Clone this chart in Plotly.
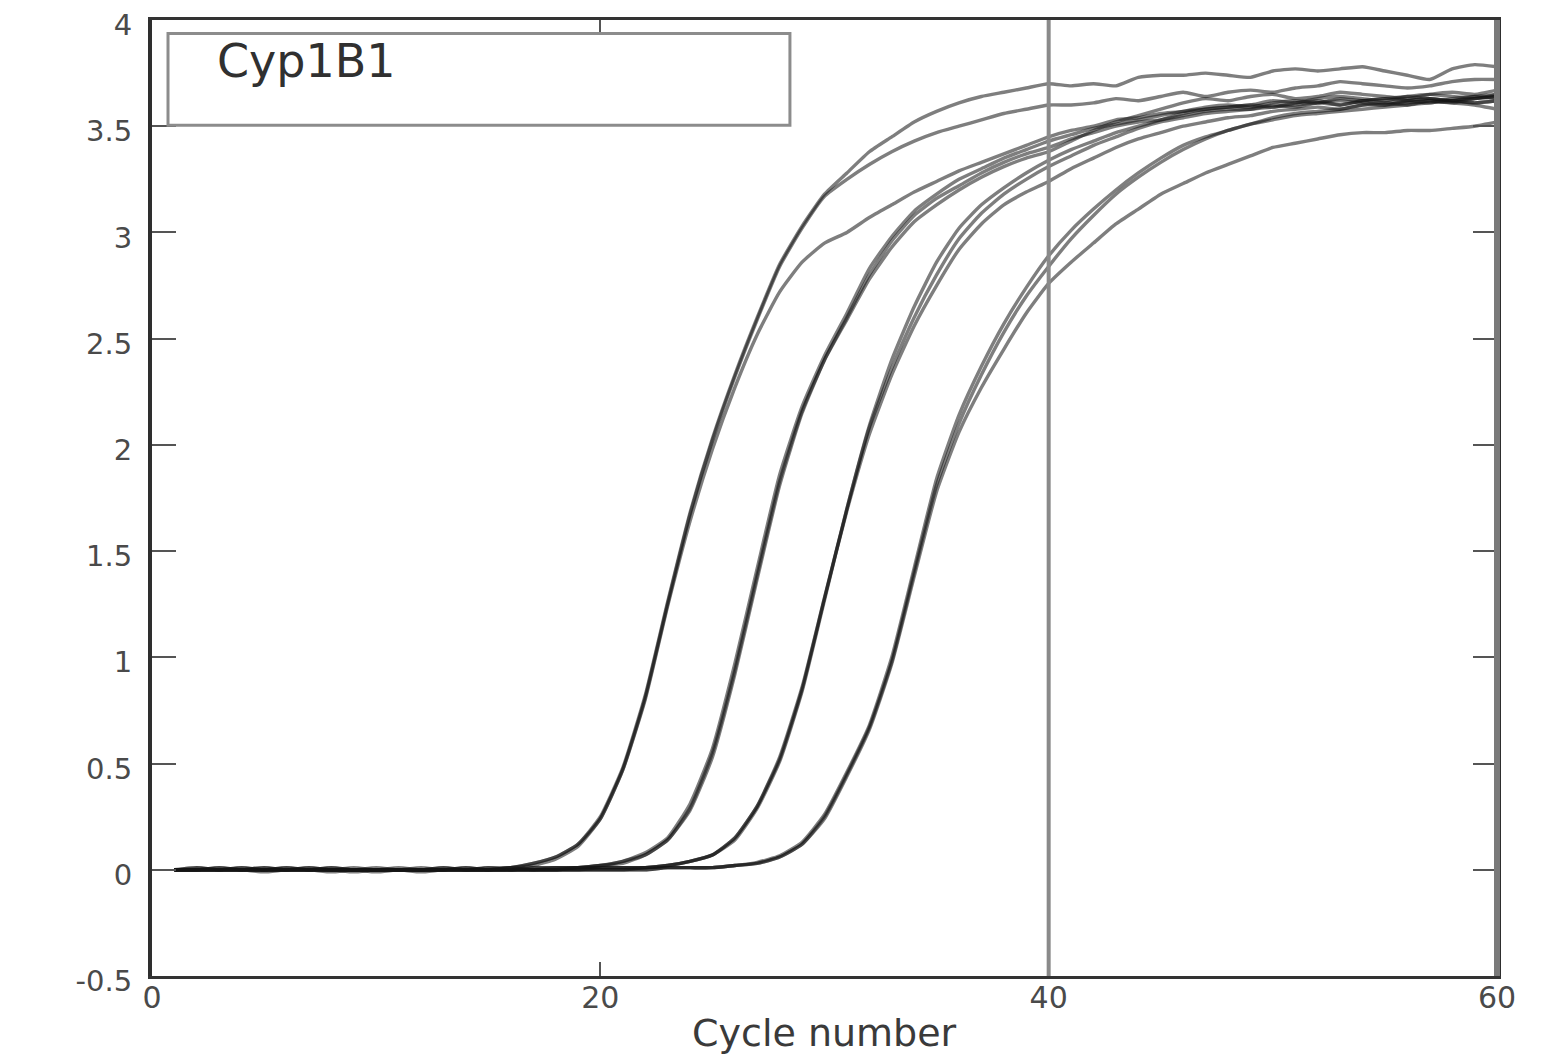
import plotly.graph_objects as go

# ---------------- data ----------------
cycles = list(range(1, 61))

A1 = [0.00, 0.01, 0.00, 0.00, -0.01, 0.00, 0.00, 0.01, 0.00, 0.00,
      0.00, -0.01, 0.00, 0.00, 0.01, 0.01, 0.03, 0.06, 0.12, 0.25,
      0.48, 0.82, 1.26, 1.68, 2.03, 2.33, 2.60, 2.85, 3.03, 3.18,
      3.28, 3.38, 3.45, 3.52, 3.57, 3.61, 3.64, 3.66, 3.68, 3.70,
      3.69, 3.70, 3.69, 3.73, 3.74, 3.74, 3.75, 3.74, 3.73, 3.76,
      3.77, 3.76, 3.77, 3.78, 3.76, 3.74, 3.72, 3.77, 3.79, 3.78]
A2 = [0.00, 0.00, 0.00, 0.01, 0.00, 0.00, 0.00, 0.00, -0.01, 0.00,
      0.00, 0.00, 0.01, 0.00, 0.00, 0.01, 0.03, 0.06, 0.12, 0.24,
      0.47, 0.81, 1.25, 1.67, 2.02, 2.32, 2.59, 2.84, 3.02, 3.17,
      3.25, 3.32, 3.38, 3.43, 3.47, 3.50, 3.53, 3.56, 3.58, 3.60,
      3.60, 3.61, 3.63, 3.62, 3.64, 3.66, 3.64, 3.66, 3.67, 3.66,
      3.68, 3.69, 3.71, 3.70, 3.69, 3.68, 3.69, 3.71, 3.72, 3.72]
A3 = [0.00, 0.00, 0.00, 0.00, 0.00, 0.01, 0.00, 0.00, 0.00, 0.00,
      0.01, 0.00, 0.00, 0.00, 0.00, 0.01, 0.02, 0.05, 0.11, 0.24,
      0.47, 0.80, 1.24, 1.64, 1.98, 2.27, 2.52, 2.72, 2.86, 2.95,
      3.00, 3.07, 3.13, 3.19, 3.24, 3.29, 3.33, 3.37, 3.41, 3.45,
      3.48, 3.50, 3.53, 3.54, 3.56, 3.57, 3.59, 3.60, 3.59, 3.61,
      3.62, 3.61, 3.63, 3.62, 3.63, 3.64, 3.63, 3.62, 3.64, 3.65]
B1 = [0.00, 0.00, 0.01, 0.00, 0.00, 0.00, 0.00, -0.01, 0.00, 0.00,
      0.00, 0.00, 0.00, 0.01, 0.00, 0.00, 0.01, 0.01, 0.01, 0.02,
      0.04, 0.08, 0.15, 0.31, 0.57, 0.97, 1.42, 1.86, 2.18, 2.42,
      2.62, 2.83, 2.98, 3.10, 3.18, 3.25, 3.30, 3.35, 3.39, 3.43,
      3.46, 3.49, 3.51, 3.53, 3.55, 3.57, 3.58, 3.59, 3.60, 3.59,
      3.61, 3.62, 3.60, 3.62, 3.63, 3.62, 3.61, 3.63, 3.64, 3.63]
B2 = [0.00, 0.00, 0.00, 0.00, 0.01, 0.00, 0.00, 0.00, 0.00, 0.01,
      0.00, 0.00, 0.00, 0.00, 0.00, 0.00, 0.00, 0.01, 0.01, 0.02,
      0.03, 0.07, 0.14, 0.28, 0.53, 0.92, 1.37, 1.81, 2.15, 2.40,
      2.60, 2.80, 2.96, 3.08, 3.16, 3.22, 3.28, 3.33, 3.37, 3.40,
      3.44, 3.47, 3.50, 3.52, 3.53, 3.55, 3.57, 3.58, 3.58, 3.60,
      3.59, 3.61, 3.62, 3.61, 3.60, 3.62, 3.63, 3.62, 3.61, 3.62]
B3 = [0.00, 0.01, 0.00, 0.00, 0.00, 0.00, 0.01, 0.00, 0.00, 0.00,
      0.00, 0.00, 0.01, 0.00, 0.00, 0.00, 0.01, 0.01, 0.01, 0.02,
      0.04, 0.07, 0.14, 0.29, 0.55, 0.94, 1.39, 1.83, 2.16, 2.40,
      2.59, 2.78, 2.93, 3.05, 3.13, 3.20, 3.26, 3.31, 3.35, 3.38,
      3.43, 3.48, 3.52, 3.55, 3.58, 3.61, 3.63, 3.62, 3.64, 3.65,
      3.63, 3.64, 3.66, 3.65, 3.64, 3.63, 3.65, 3.66, 3.65, 3.67]
C1 = [0.00, 0.00, 0.00, 0.01, 0.00, 0.00, 0.00, 0.00, 0.00, 0.00,
      0.00, 0.01, 0.00, 0.00, 0.00, 0.00, 0.00, 0.00, 0.01, 0.01,
      0.01, 0.01, 0.02, 0.04, 0.07, 0.15, 0.30, 0.52, 0.85, 1.28,
      1.70, 2.08, 2.36, 2.60, 2.80, 2.97, 3.09, 3.18, 3.25, 3.31,
      3.36, 3.41, 3.45, 3.49, 3.52, 3.54, 3.56, 3.57, 3.58, 3.59,
      3.60, 3.61, 3.60, 3.62, 3.61, 3.62, 3.63, 3.62, 3.63, 3.64]
C2 = [0.00, 0.00, 0.00, 0.00, 0.00, 0.01, 0.00, 0.00, 0.00, -0.01,
      0.00, 0.00, 0.00, 0.00, 0.01, 0.00, 0.00, 0.00, 0.00, 0.01,
      0.01, 0.01, 0.02, 0.04, 0.07, 0.14, 0.29, 0.51, 0.84, 1.27,
      1.70, 2.09, 2.40, 2.65, 2.86, 3.02, 3.13, 3.21, 3.28, 3.34,
      3.39, 3.43, 3.47, 3.50, 3.53, 3.56, 3.58, 3.59, 3.60, 3.62,
      3.61, 3.63, 3.64, 3.63, 3.62, 3.64, 3.65, 3.64, 3.63, 3.65]
C3 = [0.00, 0.00, 0.01, 0.00, 0.00, 0.00, 0.00, 0.00, 0.01, 0.00,
      0.00, 0.00, 0.00, 0.01, 0.00, 0.00, 0.00, 0.00, 0.01, 0.01,
      0.01, 0.01, 0.02, 0.04, 0.07, 0.15, 0.30, 0.53, 0.86, 1.28,
      1.69, 2.05, 2.33, 2.56, 2.75, 2.92, 3.04, 3.13, 3.19, 3.24,
      3.30, 3.35, 3.40, 3.44, 3.47, 3.50, 3.52, 3.54, 3.55, 3.57,
      3.58, 3.59, 3.58, 3.60, 3.61, 3.60, 3.62, 3.61, 3.60, 3.58]
D1 = [0.00, 0.00, 0.00, 0.00, 0.00, 0.00, 0.01, 0.00, 0.00, 0.00,
      0.00, 0.00, 0.00, 0.00, 0.00, 0.00, 0.00, 0.00, 0.00, 0.00,
      0.00, 0.01, 0.01, 0.01, 0.01, 0.02, 0.035, 0.066, 0.13, 0.26,
      0.46, 0.68, 1.00, 1.42, 1.84, 2.14, 2.37, 2.57, 2.74, 2.89,
      3.01, 3.11, 3.20, 3.28, 3.35, 3.41, 3.45, 3.48, 3.51, 3.53,
      3.55, 3.56, 3.57, 3.58, 3.59, 3.60, 3.61, 3.62, 3.61, 3.62]
D2 = [0.00, 0.00, 0.00, 0.00, 0.01, 0.00, 0.00, 0.00, 0.00, 0.00,
      0.00, 0.00, 0.00, 0.00, 0.00, 0.01, 0.00, 0.00, 0.00, 0.00,
      0.00, 0.00, 0.01, 0.01, 0.01, 0.02, 0.03, 0.06, 0.12, 0.25,
      0.45, 0.67, 0.98, 1.40, 1.81, 2.10, 2.33, 2.53, 2.70, 2.84,
      2.97, 3.08, 3.18, 3.26, 3.33, 3.39, 3.44, 3.48, 3.51, 3.54,
      3.56, 3.57, 3.58, 3.60, 3.60, 3.61, 3.62, 3.61, 3.63, 3.64]
D3 = [0.00, 0.00, 0.00, 0.00, 0.00, 0.00, 0.00, 0.01, 0.00, 0.00,
      0.00, 0.00, 0.00, 0.00, 0.00, 0.00, 0.00, 0.00, 0.00, 0.00,
      0.00, 0.00, 0.01, 0.01, 0.01, 0.02, 0.03, 0.06, 0.12, 0.24,
      0.44, 0.66, 0.97, 1.38, 1.78, 2.06, 2.27, 2.45, 2.62, 2.76,
      2.86, 2.95, 3.04, 3.11, 3.18, 3.23, 3.28, 3.32, 3.36, 3.40,
      3.42, 3.44, 3.46, 3.47, 3.47, 3.48, 3.48, 3.49, 3.50, 3.52]

curve_names = ["A1", "A2", "A3", "B1", "B2", "B3", "C1", "C2", "C3", "D1", "D2", "D3"]
curve_values = [A1, A2, A3, B1, B2, B3, C1, C2, C3, D1, D2, D3]

threshold_cycle = 40
gene_label = "Cyp1B1"
x_title = "Cycle number"
y_tickvals = [-0.5, 0, 0.5, 1, 1.5, 2, 2.5, 3, 3.5, 4]
y_ticktext = ["-0.5", "0", "0.5", "1", "1.5", "2", "2.5", "3", "3.5", "4"]
x_tickvals = [0, 20, 40, 60]
x_ticktext = ["0", "20", "40", "60"]

# ---------------- figure ----------------
FONT = "DejaVu Sans"
fig = go.Figure()
for name, vals in zip(curve_names, curve_values):
    fig.add_trace(go.Scatter(
        x=cycles, y=vals, mode="lines", name=name, showlegend=False,
        line=dict(color="rgba(20,20,20,0.55)", width=3.4, shape="spline", smoothing=0.5),
        hoverinfo="x+y+name",
    ))

# reference vertical line
fig.add_vline(x=threshold_cycle, line=dict(color="#8a8a8a", width=4), layer="above")

# right frame edge (thick gray)
fig.add_shape(type="line", xref="paper", yref="paper", x0=1, x1=1, y0=0, y1=1,
              line=dict(color="#7a7a7a", width=6))

# legend-like box with gene name
fig.add_shape(type="rect", xref="paper", yref="paper",
              x0=0.0119, x1=0.4743, y0=0.8898, y1=0.9859,
              line=dict(color="#8c8c8c", width=3), fillcolor="white", layer="above")
fig.add_annotation(text=gene_label, xref="paper", yref="paper", x=0.0468, y=0.957,
                   xanchor="left", yanchor="middle", showarrow=False,
                   font=dict(family=FONT, size=46, color="#303030"))

# x axis title at the very bottom edge
fig.add_annotation(text=x_title, xref="paper", yref="paper", x=0.5, y=-0.0345,
                   xanchor="center", yanchor="top", showarrow=False,
                   font=dict(family=FONT, size=38, color="#3a3a3a"))

fig.update_layout(
    width=1538, height=1050,
    margin=dict(l=144, r=49, t=12, b=82, autoexpand=False),
    paper_bgcolor="white", plot_bgcolor="white",
    font=dict(family=FONT, color="#444444"),
    showlegend=False,
)
fig.update_xaxes(
    range=[0, 60], tickvals=x_tickvals, ticktext=x_ticktext,
    showgrid=False, zeroline=False, automargin=False,
    showline=True, linecolor="#333333", linewidth=3, mirror="allticks",
    ticks="inside", ticklen=14, tickwidth=2, tickcolor="#555555",
    tickfont=dict(family=FONT, size=30, color="#4a4a4a"),
    ticklabelstandoff=-7, ticklabeloverflow="allow",
)
fig.update_yaxes(
    range=[-0.5, 4], tickvals=y_tickvals, ticktext=y_ticktext,
    showgrid=False, zeroline=False, automargin=False,
    showline=True, linecolor="#2e2e2e", linewidth=4, mirror="allticks",
    ticks="inside", ticklen=24, tickwidth=2, tickcolor="#555555",
    tickfont=dict(family=FONT, size=29, color="#4a4a4a"),
    ticklabelstandoff=10, ticklabeloverflow="allow", ticklabelshift=5,
)

fig.write_html("out.html")
